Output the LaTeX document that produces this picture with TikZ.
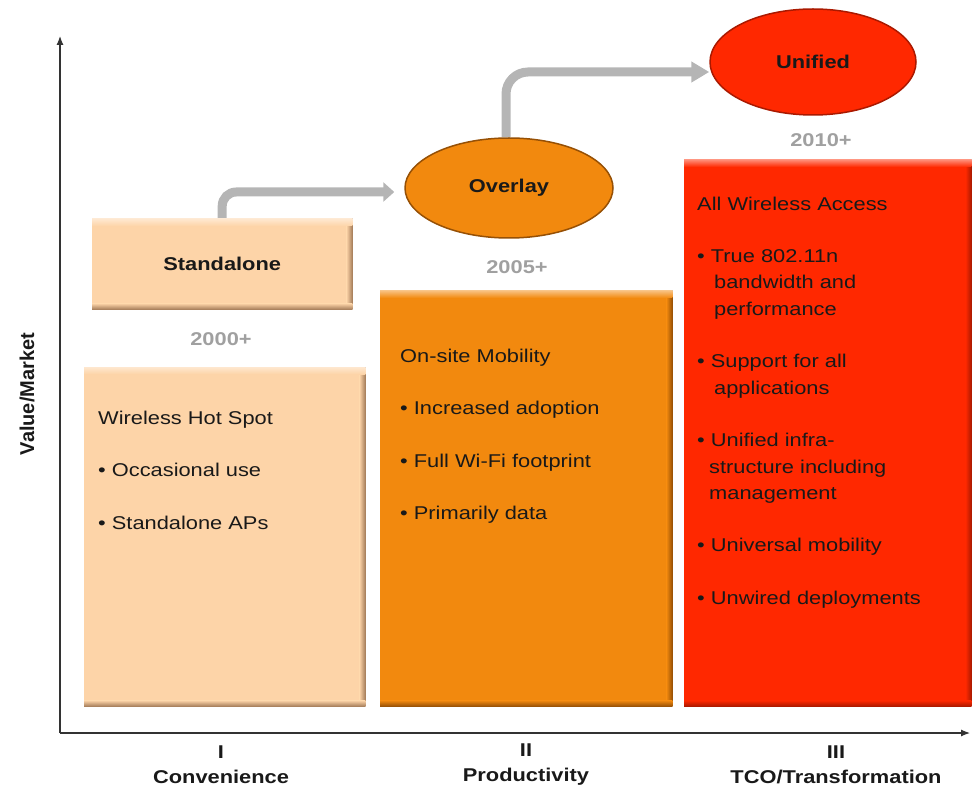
\documentclass[tikz,border=0pt]{standalone}
\usepackage{fontspec}
\setmainfont{Liberation Sans}[FakeStretch=1.18]
\newfontfamily\vfont{Liberation Sans}
\usetikzlibrary{arrows.meta,shapes.geometric,backgrounds}
\definecolor{peach}{RGB}{253,212,168}
\definecolor{peachdk}{RGB}{165,125,90}
\definecolor{orng}{RGB}{242,137,14}
\definecolor{orngdk}{RGB}{150,80,5}
\definecolor{rd}{RGB}{255,40,0}
\definecolor{rddk}{RGB}{170,25,0}
\definecolor{garr}{RGB}{181,181,181}
\definecolor{yrc}{RGB}{160,160,160}
\definecolor{ink}{RGB}{25,25,25}
\newcommand\bevelbox[3]{%
 \shade[left color=#2, right color=#3] ([xshift=-6pt]#1.north east) rectangle (#1.south east);
 \shade[top color=#2, bottom color=#3] ([yshift=6pt]#1.south west) rectangle (#1.south east);
 \shade[top color=white!45!#2, bottom color=#2] (#1.north west) rectangle ([yshift=-7pt]#1.north east);
}
\tikzset{
 box/.style={rectangle, fill=#1, inner sep=0pt, anchor=north west},
 txt/.style={align=left, inner sep=0pt, font=\fontsize{18.5}{26.3}\selectfont, text=ink, anchor=base west},
 bold/.style={font=\bfseries\fontsize{18.5}{25}\selectfont, text=ink},
 yr/.style={font=\bfseries\fontsize{18.5}{22}\selectfont, text=yrc},
 oval/.style={ellipse, fill=#1, inner sep=0pt, line width=1.5pt, font=\bfseries\fontsize{18.5}{22}\selectfont, text=ink},
 garrow/.style={draw=garr, line width=9pt},
 axis/.style={draw=black!80, line width=1.2pt},
 axl/.style={align=center, font=\bfseries\fontsize{18.5}{25}\selectfont, text=ink},
}
\begin{document}
\begin{tikzpicture}[x=1pt,y=-1pt]
\useasboundingbox (0,0) rectangle (974,791);
% axes
\coordinate (o) at (60,733);
\coordinate (ytop) at (60,36);
\coordinate (xend) at (970,733);
\draw[axis, -{Latex[length=9pt,width=7pt]}] (o) -- (ytop);
\draw[axis, -{Latex[length=9pt,width=7pt]}] (o) -- (xend);
\node[rotate=90, font=\vfont\bfseries\fontsize{20}{24}\selectfont, text=ink] (vm) at (27,394) {Value/Market};
% boxes
\node[box=peach, minimum width=260pt, minimum height=90pt, bold] (sa) at (92,219) {Standalone};
\bevelbox{sa}{peach}{peachdk}
\node[box=peach, minimum width=281pt, minimum height=339pt] (b1) at (84,367) {};
\bevelbox{b1}{peach}{peachdk}
\node[box=orng, minimum width=292pt, minimum height=415pt] (b2) at (380,291) {};
\bevelbox{b2}{orng}{orngdk}
\node[box=rd, minimum width=287pt, minimum height=546pt] (b3) at (684,160) {};
\bevelbox{b3}{rd}{rddk}
% ovals
\node[oval=orng, draw=orngdk, minimum width=208pt, minimum height=100pt] (ov) at (509,188) {Overlay};
\node[oval=rd, draw=rddk, minimum width=206pt, minimum height=106pt] (un) at (813,62) {Unified};
% arrows
\begin{scope}[on background layer]
\draw[garrow, rounded corners=14pt, shorten >=10pt, -{Triangle[length=11pt,width=19pt]}] (sa.north) |- ([yshift=-4pt]ov.west);
\draw[garrow, rounded corners=22pt, -{Triangle[length=18pt,width=20pt]}] ([xshift=-3pt]ov.north) |- ([yshift=-10pt]un.west);
\end{scope}
% years
\node[yr] (y1) at (221,339) {2000+};
\node[yr] (y2) at (517,267) {2005+};
\node[yr] (y3) at (821,140) {2010+};
% box texts (base anchor = baseline of last line)
\node[txt] (t1) at (98,529.2) {Wireless Hot Spot\\[26.3pt]
• Occasional use\\[26.3pt]
• Standalone APs};
\node[txt] (t2) at (400,519.8) {On-site Mobility\\[26.3pt]
• Increased adoption\\[26.3pt]
• Full Wi-Fi footprint\\[26.3pt]
• Primarily data};
\node[txt] (t3) at (697,604.5) {All Wireless Access\\[26.3pt]
• True 802.11n\\
\hspace*{17pt}bandwidth and\\
\hspace*{17pt}performance\\[26.3pt]
• Support for all\\
\hspace*{17pt}applications\\[26.3pt]
• Unified infra-\\
\hspace*{12pt}structure including\\
\hspace*{12pt}management\\[26.3pt]
• Universal mobility\\[26.3pt]
• Unwired deployments};
% axis labels
\node[axl] (c1) at (221,765) {I\\Convenience};
\node[axl] (c2) at (526,765) {II\\Productivity};
\node[axl] (c3) at (836,765) {III\\TCO/Transformation};
\end{tikzpicture}
\end{document}
